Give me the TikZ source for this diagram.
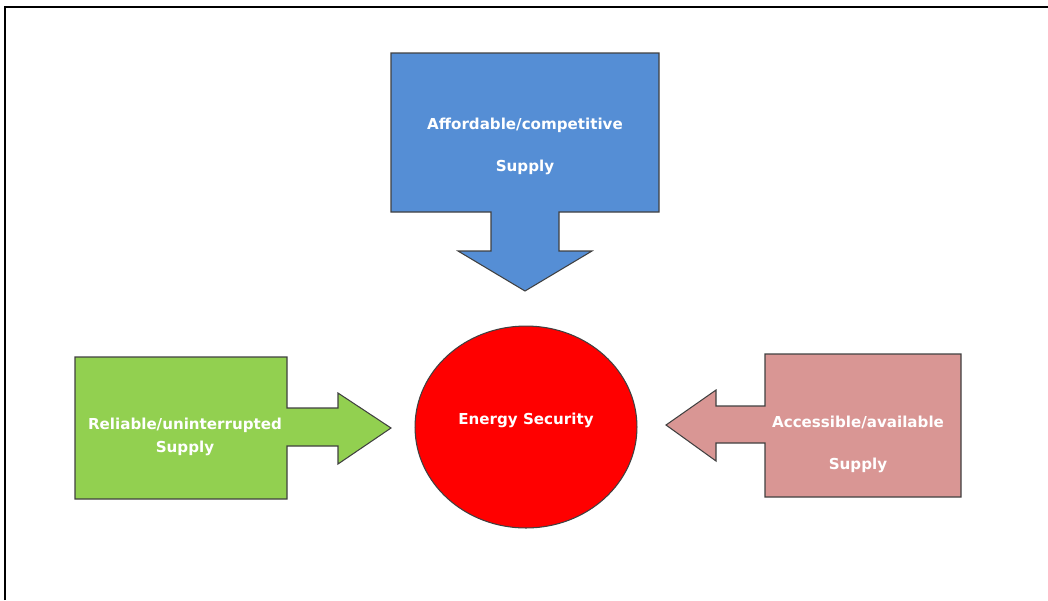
\documentclass[tikz,border=0pt]{standalone}
\usepackage{fontspec}
\setmainfont{DejaVu Sans}
\usetikzlibrary{shapes.geometric}
\definecolor{cblue}{HTML}{558ED5}
\definecolor{cgreen}{HTML}{92D050}
\definecolor{cpink}{HTML}{D99694}
\definecolor{cred}{HTML}{FF0000}
\definecolor{cedge}{HTML}{404040}
\begin{document}
\begin{tikzpicture}[x=0.02cm,y=-0.02cm,
  callout/.style={draw=cedge,line width=0.6pt,line join=miter},
  lbl/.style={text=white,font=\bfseries\fontsize{8.6}{10}\selectfont,align=center,inner sep=0pt}]
\useasboundingbox (0,0) rectangle (1048,600);
% frame
\draw[line width=1.4pt] (5,600) -- (5,7) -- (1048,7);
% top callout
\draw[callout,fill=cblue] (391,53) -- (659,53) -- (659,212) -- (559,212) -- (559,251)
  -- (592,251) -- (525,291) -- (458,251) -- (491,251) -- (491,212) -- (391,212) -- cycle;
% left callout
\draw[callout,fill=cgreen] (75,357) -- (287,357) -- (287,408) -- (338,408) -- (338,393)
  -- (391,428) -- (338,464) -- (338,446) -- (287,446) -- (287,499) -- (75,499) -- cycle;
% right callout
\draw[callout,fill=cpink] (765,354) -- (961,354) -- (961,497) -- (765,497) -- (765,443)
  -- (716,443) -- (716,461) -- (666,425) -- (716,390) -- (716,406) -- (765,406) -- cycle;
% centre
\node[ellipse,draw=cedge,line width=0.6pt,fill=cred,
  minimum width=4.44cm,minimum height=4.04cm,inner sep=0pt] (es) at (526,427) {};
\node[lbl] (esl) at (526,420) {Energy Security};
\node[lbl] (aff) at (525,146) {Affordable/competitive\\[14pt]Supply};
\node[lbl] (rel) at (185,437) {Reliable/uninterrupted\\[3pt]Supply};
\node[lbl] (acc) at (858,444) {Accessible/available\\[14pt]Supply};
\end{tikzpicture}
\end{document}
